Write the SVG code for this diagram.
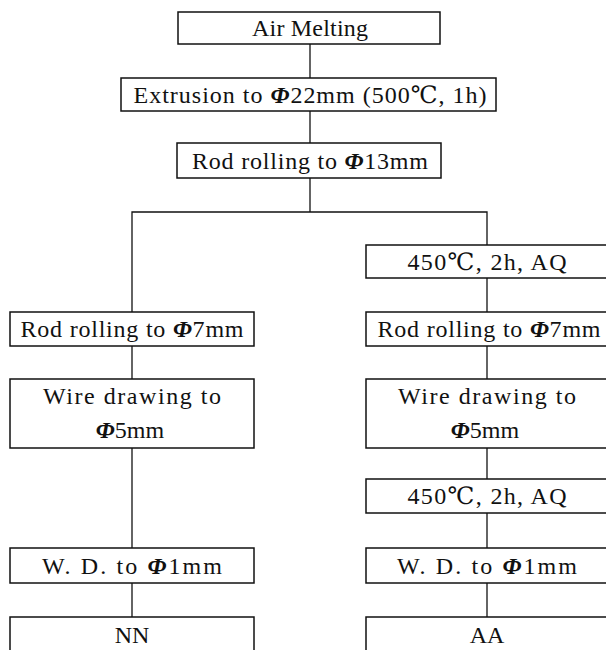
<svg xmlns="http://www.w3.org/2000/svg" width="606" height="650" viewBox="0 0 606 650">
<style>
.box{fill:#fff;stroke:#111;stroke-width:1.5}
.t{font-family:"Liberation Serif","DejaVu Serif",serif;font-size:24px;fill:#111;text-anchor:middle}
.ph{font-style:italic;font-weight:bold}
.ln{stroke:#111;stroke-width:1.3;fill:none}
</style>
<rect width="606" height="650" fill="#fff"/>
<g id="connectors">
<line class="ln" x1="310" y1="44" x2="310" y2="78"/>
<line class="ln" x1="310" y1="111" x2="310" y2="143"/>
<line class="ln" x1="310" y1="178" x2="310" y2="212"/>
<polyline class="ln" points="132,312 132,212 487,212 487,245"/>
<line class="ln" x1="487" y1="278" x2="487" y2="312"/>
<line class="ln" x1="132" y1="346" x2="132" y2="379"/>
<line class="ln" x1="487" y1="346" x2="487" y2="379"/>
<line class="ln" x1="132" y1="448" x2="132" y2="548"/>
<line class="ln" x1="487" y1="448" x2="487" y2="479"/>
<line class="ln" x1="487" y1="513" x2="487" y2="548"/>
<line class="ln" x1="132" y1="583" x2="132" y2="617"/>
<line class="ln" x1="487" y1="583" x2="487" y2="617"/>
</g>
<g id="air-melting"><rect class="box" x="178" y="12" width="262" height="32"/><text class="t" x="310" y="36" textLength="116">Air Melting</text></g>
<g id="extrusion"><rect class="box" x="121" y="78" width="375" height="33"/><text class="t" x="310" y="103" textLength="353">Extrusion to <tspan class="ph">Φ</tspan>22mm (500℃, 1h)</text></g>
<g id="rod13"><rect class="box" x="177" y="143" width="264" height="35"/><text class="t" x="310" y="169" textLength="236">Rod rolling to <tspan class="ph">Φ</tspan>13mm</text></g>
<g id="heat1"><rect class="box" x="366" y="245" width="246" height="33"/><text class="t" x="487" y="270" textLength="159">450℃, 2h, AQ</text></g>
<g id="rod7-left"><rect class="box" x="10" y="312" width="244" height="34"/><text class="t" x="132" y="337" textLength="223">Rod rolling to <tspan class="ph">Φ</tspan>7mm</text></g>
<g id="rod7-right"><rect class="box" x="366" y="312" width="246" height="34"/><text class="t" x="489" y="337" textLength="223">Rod rolling to <tspan class="ph">Φ</tspan>7mm</text></g>
<g id="wire-left"><rect class="box" x="10" y="379" width="244" height="69"/><text class="t" x="132" y="404" textLength="178">Wire drawing to</text><text class="t" x="130" y="438"><tspan class="ph">Φ</tspan>5mm</text></g>
<g id="wire-right"><rect class="box" x="366" y="379" width="246" height="69"/><text class="t" x="487" y="404" textLength="178">Wire drawing to</text><text class="t" x="485" y="438"><tspan class="ph">Φ</tspan>5mm</text></g>
<g id="heat2"><rect class="box" x="366" y="479" width="246" height="34"/><text class="t" x="487" y="504" textLength="159">450℃, 2h, AQ</text></g>
<g id="wd-left"><rect class="box" x="10" y="548" width="244" height="35"/><text class="t" x="132" y="574" textLength="180">W. D. to <tspan class="ph">Φ</tspan>1mm</text></g>
<g id="wd-right"><rect class="box" x="366" y="548" width="246" height="35"/><text class="t" x="487" y="574" textLength="180">W. D. to <tspan class="ph">Φ</tspan>1mm</text></g>
<g id="nn"><rect class="box" x="10" y="617" width="244" height="40"/><text class="t" x="132" y="643">NN</text></g>
<g id="aa"><rect class="box" x="366" y="617" width="246" height="40"/><text class="t" x="487" y="643">AA</text></g>
</svg>
